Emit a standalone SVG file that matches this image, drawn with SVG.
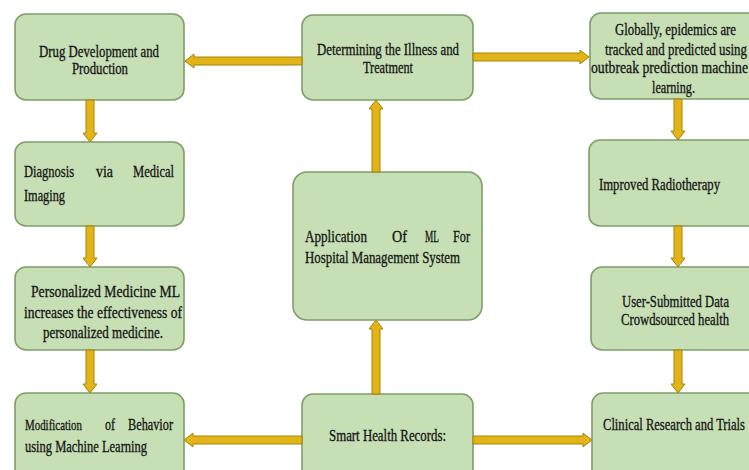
<svg xmlns="http://www.w3.org/2000/svg" width="749" height="470" viewBox="0 0 749 470">
<style>
.box{fill:#C7DFB4;stroke:#7F9E6B;stroke-width:1.6}
.t{font-family:"Liberation Serif","Times New Roman",serif;font-size:16px;fill:#141414;stroke:#141414;stroke-width:0.3}
.s{font-size:15px}
.arr{fill:#E2B417;stroke:#A88409;stroke-width:1;stroke-linejoin:miter}
</style>
<rect width="749" height="470" fill="#FFFFFF"/>
<g id="drug">
<rect class="box" x="15" y="14" width="169" height="86" rx="11"/>
<text class="t" x="39" y="57" textLength="120" lengthAdjust="spacingAndGlyphs">Drug Development and</text>
<text class="t" x="72" y="74" textLength="56" lengthAdjust="spacingAndGlyphs">Production</text>
</g>
<g id="determining">
<rect class="box" x="302" y="15" width="171" height="85" rx="11"/>
<text class="t" x="317" y="55" textLength="142" lengthAdjust="spacingAndGlyphs">Determining the Illness and</text>
<text class="t" x="363" y="73" textLength="50" lengthAdjust="spacingAndGlyphs">Treatment</text>
</g>
<g id="globally">
<rect class="box" x="590" y="13" width="175" height="86" rx="11"/>
<text class="t" x="615" y="35" textLength="121" lengthAdjust="spacingAndGlyphs">Globally, epidemics are</text>
<text class="t" x="605" y="55" textLength="142" lengthAdjust="spacingAndGlyphs">tracked and predicted using</text>
<text class="t" x="591" y="73" textLength="157" lengthAdjust="spacingAndGlyphs">outbreak prediction machine</text>
<text class="t" x="652" y="93" textLength="43" lengthAdjust="spacingAndGlyphs">learning.</text>
</g>
<g id="diagnosis">
<rect class="box" x="15" y="142" width="169" height="84" rx="11"/>
<text class="t" x="24" y="177" textLength="50" lengthAdjust="spacingAndGlyphs">Diagnosis</text>
<text class="t" x="96" y="177" textLength="17" lengthAdjust="spacingAndGlyphs">via</text>
<text class="t" x="133" y="177" textLength="41" lengthAdjust="spacingAndGlyphs">Medical</text>
<text class="t" x="24" y="201" textLength="41" lengthAdjust="spacingAndGlyphs">Imaging</text>
</g>
<g id="application">
<rect class="box" x="293" y="172" width="189" height="148" rx="14"/>
<text class="t" x="305" y="242" textLength="62" lengthAdjust="spacingAndGlyphs">Application</text>
<text class="t" x="392" y="242" textLength="15" lengthAdjust="spacingAndGlyphs">Of</text>
<text class="t" x="425" y="242" textLength="14" lengthAdjust="spacingAndGlyphs">ML</text>
<text class="t" x="453" y="242" textLength="17" lengthAdjust="spacingAndGlyphs">For</text>
<text class="t" x="305" y="263" textLength="155" lengthAdjust="spacingAndGlyphs">Hospital Management System</text>
</g>
<g id="improved">
<rect class="box" x="589" y="140" width="176" height="86" rx="11"/>
<text class="t" x="599" y="190" textLength="121" lengthAdjust="spacingAndGlyphs">Improved Radiotherapy</text>
</g>
<g id="personalized">
<rect class="box" x="15" y="267" width="169" height="83" rx="11"/>
<text class="t" x="31" y="297" textLength="149" lengthAdjust="spacingAndGlyphs">Personalized Medicine ML</text>
<text class="t" x="24" y="318" textLength="158" lengthAdjust="spacingAndGlyphs">increases the effectiveness of</text>
<text class="t" x="43" y="338" textLength="120" lengthAdjust="spacingAndGlyphs">personalized medicine.</text>
</g>
<g id="usersubmitted">
<rect class="box" x="591" y="267" width="174" height="83" rx="11"/>
<text class="t" x="622" y="307" textLength="107" lengthAdjust="spacingAndGlyphs">User-Submitted Data</text>
<text class="t" x="621" y="325" textLength="108" lengthAdjust="spacingAndGlyphs">Crowdsourced health</text>
</g>
<g id="modification">
<rect class="box" x="15" y="393" width="169" height="90" rx="11"/>
<text class="t s" x="25" y="430" textLength="57" lengthAdjust="spacingAndGlyphs">Modification</text>
<text class="t" x="105" y="430" textLength="10" lengthAdjust="spacingAndGlyphs">of</text>
<text class="t" x="128" y="430" textLength="45" lengthAdjust="spacingAndGlyphs">Behavior</text>
<text class="t" x="25" y="452" textLength="122" lengthAdjust="spacingAndGlyphs">using Machine Learning</text>
</g>
<g id="smart">
<rect class="box" x="302" y="394" width="171" height="90" rx="11"/>
<text class="t" x="329" y="441" textLength="117" lengthAdjust="spacingAndGlyphs">Smart Health Records:</text>
</g>
<g id="clinical">
<rect class="box" x="592" y="393" width="173" height="90" rx="11"/>
<text class="t" x="603" y="430" textLength="142" lengthAdjust="spacingAndGlyphs">Clinical Research and Trials</text>
</g>
<g id="connectors">
<polygon class="arr" points="302,57 194,57 194,54 185,61 194,68 194,65 302,65"/>
<polygon class="arr" points="473,53 580,53 580,50 589,57 580,64 580,61 473,61"/>
<polygon class="arr" points="86,100 86,133 83,133 90,142 97,133 94,133 94,100"/>
<polygon class="arr" points="86,226 86,258 83,258 90,267 97,258 94,258 94,226"/>
<polygon class="arr" points="86,350 86,384 83,384 90,393 97,384 94,384 94,350"/>
<polygon class="arr" points="372,172 372,109 369,109 376,100 383,109 380,109 380,172"/>
<polygon class="arr" points="372,394 372,329 369,329 376,320 383,329 380,329 380,394"/>
<polygon class="arr" points="674,99 674,131 671,131 678,140 685,131 682,131 682,99"/>
<polygon class="arr" points="674,226 674,258 671,258 678,267 685,258 682,258 682,226"/>
<polygon class="arr" points="674,350 674,384 671,384 678,393 685,384 682,384 682,350"/>
<polygon class="arr" points="302,436 193,436 193,433 184,440 193,447 193,444 302,444"/>
<polygon class="arr" points="473,436 583,436 583,433 592,440 583,447 583,444 473,444"/>
</g>
</svg>
